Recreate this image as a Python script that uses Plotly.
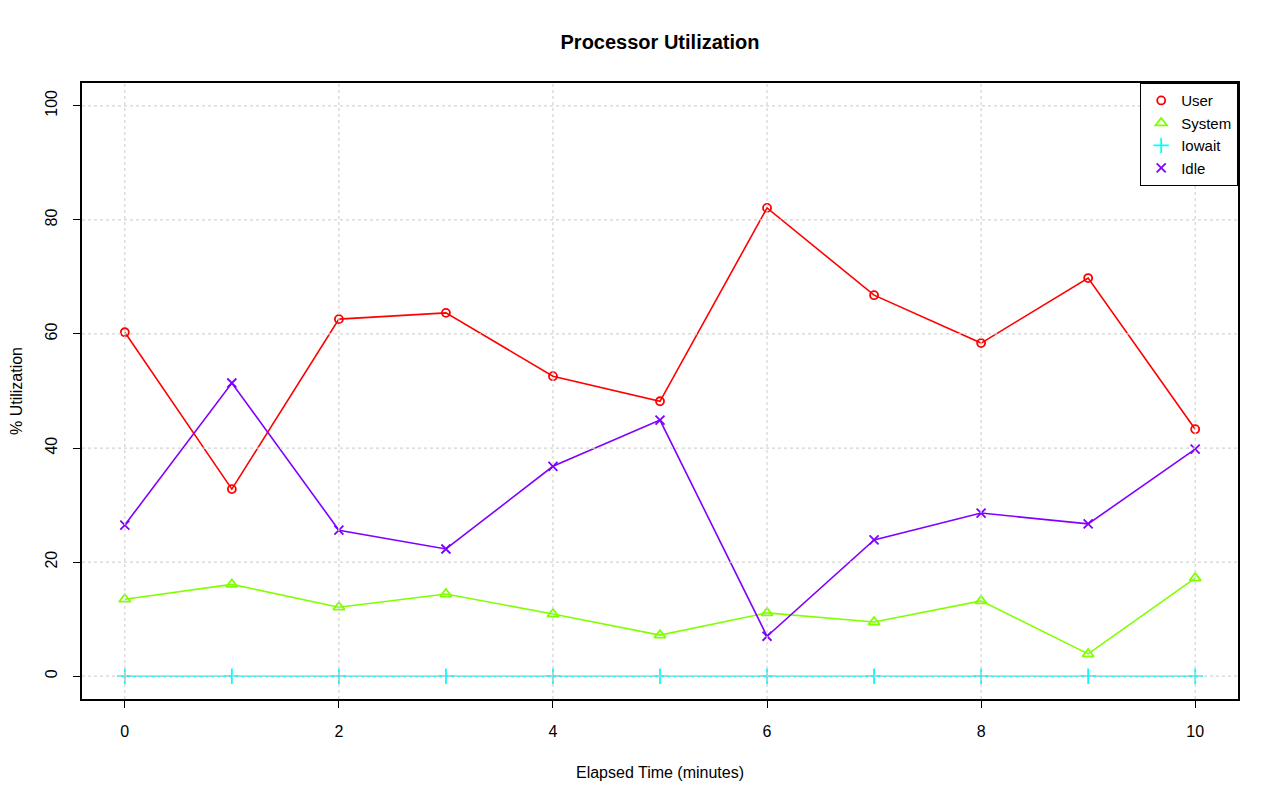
import plotly.graph_objects as go

minutes = [0, 1, 2, 3, 4, 5, 6, 7, 8, 9, 10]
user = [60.3, 32.8, 62.6, 63.7, 52.6, 48.2, 82.1, 66.8, 58.4, 69.8, 43.3]
system = [13.5, 16.1, 12.1, 14.4, 10.9, 7.2, 11.1, 9.5, 13.2, 3.9, 17.2]
iowait = [0, 0, 0, 0, 0, 0, 0, 0, 0, 0, 0]
idle = [26.5, 51.4, 25.6, 22.3, 36.8, 44.9, 7.0, 23.9, 28.6, 26.7, 39.8]

series_names = ["User", "System", "Iowait", "Idle"]
series_values = [user, system, iowait, idle]
colors = ["#FF0000", "#80FF00", "#00FFFF", "#8000FF"]
symbols = ["circle-open", "triangle-up-open", "cross-thin-open", "x-thin-open"]
sizes = [8, 10, 11, 9]

x_ticks = [0, 2, 4, 6, 8, 10]
y_ticks = [0, 20, 40, 60, 80, 100]

FONT = "Liberation Sans, Arial, Helvetica, sans-serif"

fig = go.Figure()
for name, vals, col in zip(series_names, series_values, colors):
    fig.add_trace(go.Scatter(x=minutes, y=vals, mode="lines", name=name,
                             line=dict(color=col, width=1.6), showlegend=False,
                             hoverinfo="skip"))
for name, vals, col, sym, sz in zip(series_names, series_values, colors, symbols, sizes):
    fig.add_trace(go.Scatter(x=minutes, y=vals, mode="markers", name=name,
                             marker=dict(symbol=sym, size=sz, color=col,
                                         line=dict(color=col, width=1.8))))

shapes = []
for xv in x_ticks:
    shapes.append(dict(type="line", xref="x", yref="paper", x0=xv, x1=xv, y0=0, y1=1,
                       line=dict(color="#D3D3D3", width=1.2, dash="dot"), layer="above"))
for yv in y_ticks:
    shapes.append(dict(type="line", xref="paper", yref="y", x0=0, x1=1, y0=yv, y1=yv,
                       line=dict(color="#D3D3D3", width=1.2, dash="dot"), layer="above"))

fig.update_layout(
    width=1264, height=785,
    margin=dict(l=74, r=34, t=75, b=94),
    paper_bgcolor="white", plot_bgcolor="white",
    font=dict(family=FONT, size=16, color="black"),
    title=dict(text="<b>Processor Utilization</b>", x=0.5, xref="paper", xanchor="center",
               y=1 - 34 / 785, yref="container", yanchor="middle",
               font=dict(family=FONT, size=20, color="black")),
    shapes=shapes,
    showlegend=True,
    legend=dict(x=1, y=1, xanchor="right", yanchor="top", bgcolor="white",
                bordercolor="black", borderwidth=1.2, font=dict(size=15),
                itemwidth=30, tracegroupgap=0),
    xaxis=dict(range=[-0.4, 10.4], tickvals=x_ticks, ticks="outside", ticklen=7,
               tickwidth=1.2, tickcolor="black", showline=True, mirror=True,
               linecolor="black", linewidth=1.6, showgrid=False, zeroline=False,
               ticklabelstandoff=10, automargin=False,
               title=dict(text="Elapsed Time (minutes)", standoff=28,
                          font=dict(size=16))),
    yaxis=dict(range=[-4, 104], tickvals=y_ticks, ticks="outside", ticklen=7,
               tickwidth=1.2, tickcolor="black", showline=True, mirror=True,
               linecolor="black", linewidth=1.6, showgrid=False, zeroline=False,
               tickangle=-90, ticklabelstandoff=10, automargin=False,
               title=dict(text="% Utilization", standoff=22, font=dict(size=16))),
)

fig.write_html("out.html")
